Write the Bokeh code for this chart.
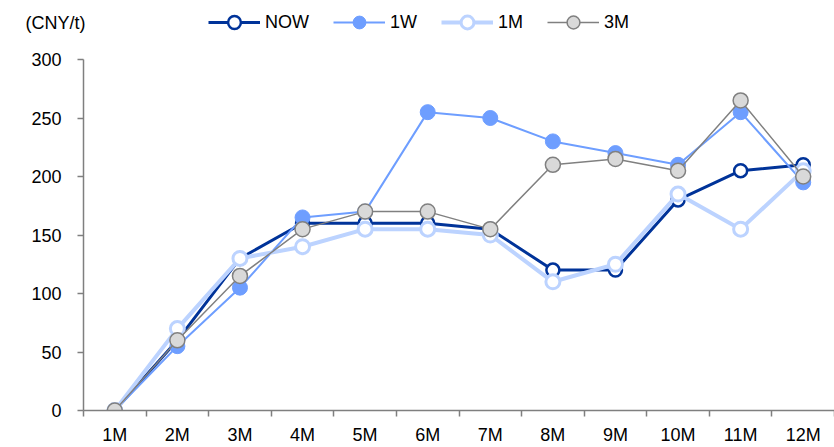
from bokeh.plotting import figure
from bokeh.models import FixedTicker, Legend, LegendItem, Range1d
from bokeh.layouts import column
from bokeh.embed import file_html
from bokeh.resources import INLINE

categories = ["1M", "2M", "3M", "4M", "5M", "6M", "7M", "8M", "9M", "10M", "11M", "12M"]
now_vals = [0, 60, 130, 160, 160, 160, 155, 120, 120, 180, 205, 210]
w1_vals = [0, 55, 105, 165, 170, 255, 250, 230, 220, 210, 255, 195]
m1_vals = [0, 70, 130, 140, 155, 155, 150, 110, 125, 185, 155, 205]
m3_vals = [0, 60, 115, 155, 170, 170, 155, 210, 215, 205, 265, 200]
y_ticks = [0, 50, 100, 150, 200, 250, 300]
series_names = ["NOW", "1W", "1M", "3M"]
unit_label = "(CNY/t)"

FONT = "Liberation Sans"
FS = "18px"
W = 834
HEAD_H = 49
MAIN_H = 447 - HEAD_H
LEFT = 83
xs = list(range(1, len(categories) + 1))
series = [now_vals, w1_vals, m1_vals, m3_vals]

C_NOW, C_1W, C_1M, C_3M = "#003399", "#6E9EFF", "#BCD3FF", "#808080"
styles = [
    dict(line=dict(line_color=C_NOW, line_width=3),
         mark=dict(size=13, fill_color="white", line_color=C_NOW, line_width=2.5)),
    dict(line=dict(line_color=C_1W, line_width=2),
         mark=dict(size=15, fill_color=C_1W, line_color=C_1W, line_width=1)),
    dict(line=dict(line_color=C_1M, line_width=4),
         mark=dict(size=14, fill_color="white", line_color=C_1M, line_width=3)),
    dict(line=dict(line_color=C_3M, line_width=1.5),
         mark=dict(size=15, fill_color="#D9D9D9", line_color=C_3M, line_width=1.5)),
]

# ---------- main chart ----------
p = figure(width=W, height=MAIN_H, output_backend="svg", toolbar_location=None,
           x_range=Range1d(0.5, len(categories) + 0.5), y_range=Range1d(0, 300),
           min_border_left=LEFT, min_border_right=0, min_border_top=10, min_border_bottom=33)
p.outline_line_color = None
p.xgrid.visible = False
p.ygrid.visible = False

AX = "#7f7f7f"
p.xaxis.ticker = FixedTicker(ticks=xs, minor_ticks=[x + 0.5 for x in range(0, len(categories) + 1)])
p.xaxis.major_label_overrides = {x: c for x, c in zip(xs, categories)}
p.xaxis.major_tick_out = 0
p.xaxis.major_tick_in = 0
p.xaxis.minor_tick_out = 6
p.xaxis.minor_tick_in = 0
p.xaxis.minor_tick_line_color = AX
p.xaxis.minor_tick_line_width = 1.5
p.xaxis.major_label_standoff = 8
p.yaxis.ticker = FixedTicker(ticks=y_ticks)
p.yaxis.minor_tick_line_color = None
p.yaxis.major_tick_out = 6
p.yaxis.major_tick_in = 0
p.yaxis.major_label_standoff = 16
for ax in (p.xaxis, p.yaxis):
    ax.axis_line_color = AX
    ax.axis_line_width = 1.5
    ax.major_tick_line_color = AX
    ax.major_tick_line_width = 1.5
    ax.major_label_text_font = FONT
    ax.major_label_text_font_size = FS
    ax.major_label_text_color = "#000000"

for vals, st in zip(series, styles):
    p.line(xs, vals, **st["line"])
    p.scatter(xs, vals, **st["mark"])

# ---------- header: unit label + legend ----------
HEAD_Y0 = 400  # header value window lies above all data, so only the legend shows
h = figure(width=W, height=HEAD_H, output_backend="svg", toolbar_location=None,
           x_range=Range1d(0.5, len(categories) + 0.5),
           y_range=Range1d(HEAD_Y0, HEAD_Y0 + HEAD_H),
           x_axis_location=None, y_axis_location="left",
           min_border_left=LEFT, min_border_right=0, min_border_top=0, min_border_bottom=0)
h.outline_line_color = None
h.grid.visible = False
unit_y = HEAD_Y0 + HEAD_H - 22
h.yaxis.ticker = FixedTicker(ticks=[unit_y])
h.yaxis.major_label_overrides = {unit_y: unit_label}
h.yaxis.axis_line_color = None
h.yaxis.major_tick_line_color = None
h.yaxis.minor_tick_line_color = None
h.yaxis.major_tick_out = 0
h.yaxis.major_tick_in = 0
h.yaxis.major_label_standoff = -2
h.yaxis.major_label_text_font = FONT
h.yaxis.major_label_text_font_size = FS
h.yaxis.major_label_text_color = "#000000"

items = []
for name, vals, st in zip(series_names, series, styles):
    rl = h.line(xs, vals, **st["line"])
    rm = h.scatter(xs, vals, **st["mark"])
    items.append(LegendItem(label=name, renderers=[rl, rm]))

legend = Legend(items=items, orientation="horizontal", location=(208 - LEFT, 11),
                padding=0, margin=0, spacing=24, glyph_width=52, glyph_height=32,
                label_height=32, label_standoff=5, border_line_color=None,
                background_fill_alpha=0, label_text_font=FONT, label_text_font_size=FS,
                label_text_color="#000000")
h.add_layout(legend, "center")

layout = column(h, p, spacing=0)
open("out.html", "w").write(file_html(layout, INLINE))
